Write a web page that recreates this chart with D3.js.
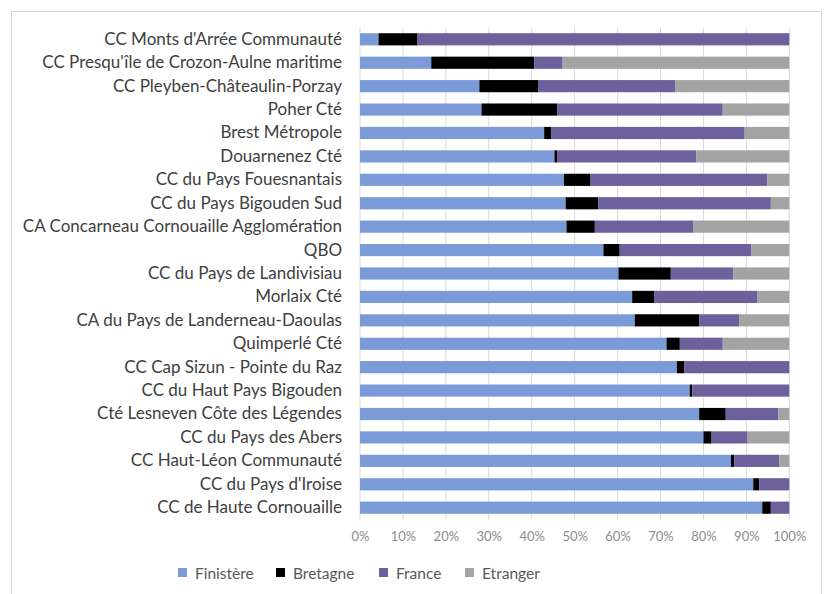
<!DOCTYPE html>
<html>
<head>
<meta charset="utf-8">
<script src="https://cdn.jsdelivr.net/npm/d3@7"></script>
<style>
  body { margin: 0; background: #fff; }
  svg { display: block; font-family: Lato, sans-serif; }
</style>
</head>
<body>
<div id="chart"></div>
<script>
// Data (shares in %, top row first)
var categories = [
  "CC Monts d'Arrée Communauté",
  "CC Presqu'île de Crozon-Aulne maritime",
  "CC Pleyben-Châteaulin-Porzay",
  "Poher Cté",
  "Brest Métropole",
  "Douarnenez Cté",
  "CC du Pays Fouesnantais",
  "CC du Pays Bigouden Sud",
  "CA Concarneau Cornouaille Agglomération",
  "QBO",
  "CC du Pays de Landivisiau",
  "Morlaix Cté",
  "CA du Pays de Landerneau-Daoulas",
  "Quimperlé Cté",
  "CC Cap Sizun - Pointe du Raz",
  "CC du Haut Pays Bigouden",
  "Cté Lesneven Côte des Légendes",
  "CC du Pays des Abers",
  "CC Haut-Léon Communauté",
  "CC du Pays d'Iroise",
  "CC de Haute Cornouaille"
];
var finistere = [4.3, 16.6, 27.8, 28.3, 42.9, 45.3, 47.5, 47.9, 48.1, 56.7, 60.2, 63.4, 64.0, 71.4, 73.8, 76.8, 79.0, 80.0, 86.4, 91.6, 93.7];
var bretagne  = [9.1, 24.0, 13.8, 17.6, 1.6, 0.6, 6.2, 7.6, 6.6, 3.8, 12.2, 5.1, 15.0, 3.1, 1.7, 0.6, 6.2, 1.9, 0.8, 1.4, 2.0];
var france    = [86.6, 6.6, 31.8, 38.6, 45.1, 32.4, 41.2, 40.2, 23.0, 30.6, 14.6, 24.1, 9.3, 10.0, 24.5, 22.6, 12.2, 8.4, 10.5, 7.0, 4.3];
var etranger  = [0, 52.8, 26.6, 15.5, 10.4, 21.7, 5.1, 4.3, 22.3, 8.9, 13.0, 7.4, 11.7, 15.5, 0, 0, 2.6, 9.7, 2.3, 0, 0];
var seriesNames = ["Finistère", "Bretagne", "France", "Etranger"];
var seriesColors = ["#7b9bd8", "#000000", "#6e5f9d", "#a3a3a3"];
var xTicks = [0, 10, 20, 30, 40, 50, 60, 70, 80, 90, 100];

var svgWidth = 829;
var svgHeight = 594;
var margin = { top: 27.6, right: 40, bottom: 75, left: 360 };
var chartWidth = 789.3 - margin.left;
var chartHeight = 519.4 - margin.top;

var svg = d3.select("#chart")
  .append("svg")
  .attr("width", svgWidth)
  .attr("height", svgHeight);

// outer frame
svg.append("rect")
  .attr("x", 11.5).attr("y", 11.5)
  .attr("width", 810).attr("height", 600)
  .attr("fill", "none")
  .attr("stroke", "#d9d9d9")
  .attr("stroke-width", 1);

var chartGroup = svg.append("g")
  .attr("transform", `translate(${margin.left}, ${margin.top})`);

// build table for stacking
var rows = categories.map(function(c, i) {
  return { name: c, "Finistère": finistere[i], "Bretagne": bretagne[i], "France": france[i], "Etranger": etranger[i] };
});
rows.forEach(function(r) {
  var tot = r["Finistère"] + r["Bretagne"] + r["France"] + r["Etranger"];
  seriesNames.forEach(function(k) { r[k] = r[k] / tot * 100; });
});

var xScale = d3.scaleLinear().domain([0, 100]).range([0, chartWidth]);
var yScale = d3.scaleBand()
  .domain(categories)
  .range([0, chartHeight])
  .paddingInner(0.48)
  .paddingOuter(0.24);

// gridlines
chartGroup.selectAll(".grid")
  .data(xTicks)
  .enter()
  .append("line")
  .attr("x1", d => xScale(d))
  .attr("x2", d => xScale(d))
  .attr("y1", 0)
  .attr("y2", chartHeight)
  .attr("stroke", "#d9d9d9")
  .attr("stroke-width", 1);

var stacked = d3.stack().keys(seriesNames)(rows);

chartGroup.selectAll(".series")
  .data(stacked)
  .enter()
  .append("g")
  .attr("fill", (d, i) => seriesColors[i])
  .selectAll("rect")
  .data(d => d)
  .enter()
  .append("rect")
  .attr("x", d => xScale(d[0]))
  .attr("y", d => yScale(d.data.name))
  .attr("width", d => xScale(d[1]) - xScale(d[0]))
  .attr("height", yScale.bandwidth());

// x axis
var bottomAxis = d3.axisBottom(xScale)
  .tickValues(xTicks)
  .tickFormat(d => d + "%")
  .tickSize(0)
  .tickPadding(12);
var xAxis = chartGroup.append("g")
  .attr("transform", `translate(0, ${chartHeight})`)
  .call(bottomAxis);
xAxis.select(".domain").remove();
xAxis.selectAll("text")
  .attr("fill", "#8c8c8c")
  .style("font-size", "13px")
  .style("font-family", "Lato, sans-serif");

// y axis
var leftAxis = d3.axisLeft(yScale).tickSize(0).tickPadding(18);
var yAxis = chartGroup.append("g").call(leftAxis);
yAxis.select(".domain").remove();
yAxis.selectAll("text")
  .attr("fill", "#404040")
  .style("font-size", "17px")
  .style("font-family", "Lato, sans-serif");

// legend
var legendX = [178, 276, 379, 465];
var legend = svg.append("g");
seriesNames.forEach(function(name, i) {
  legend.append("rect")
    .attr("x", legendX[i])
    .attr("y", 568)
    .attr("width", 9)
    .attr("height", 9)
    .attr("fill", seriesColors[i]);
  legend.append("text")
    .attr("x", legendX[i] + 17)
    .attr("y", 578.5)
    .attr("fill", "#595959")
    .style("font-size", "15.5px")
    .text(name);
});
</script>
</body>
</html>
